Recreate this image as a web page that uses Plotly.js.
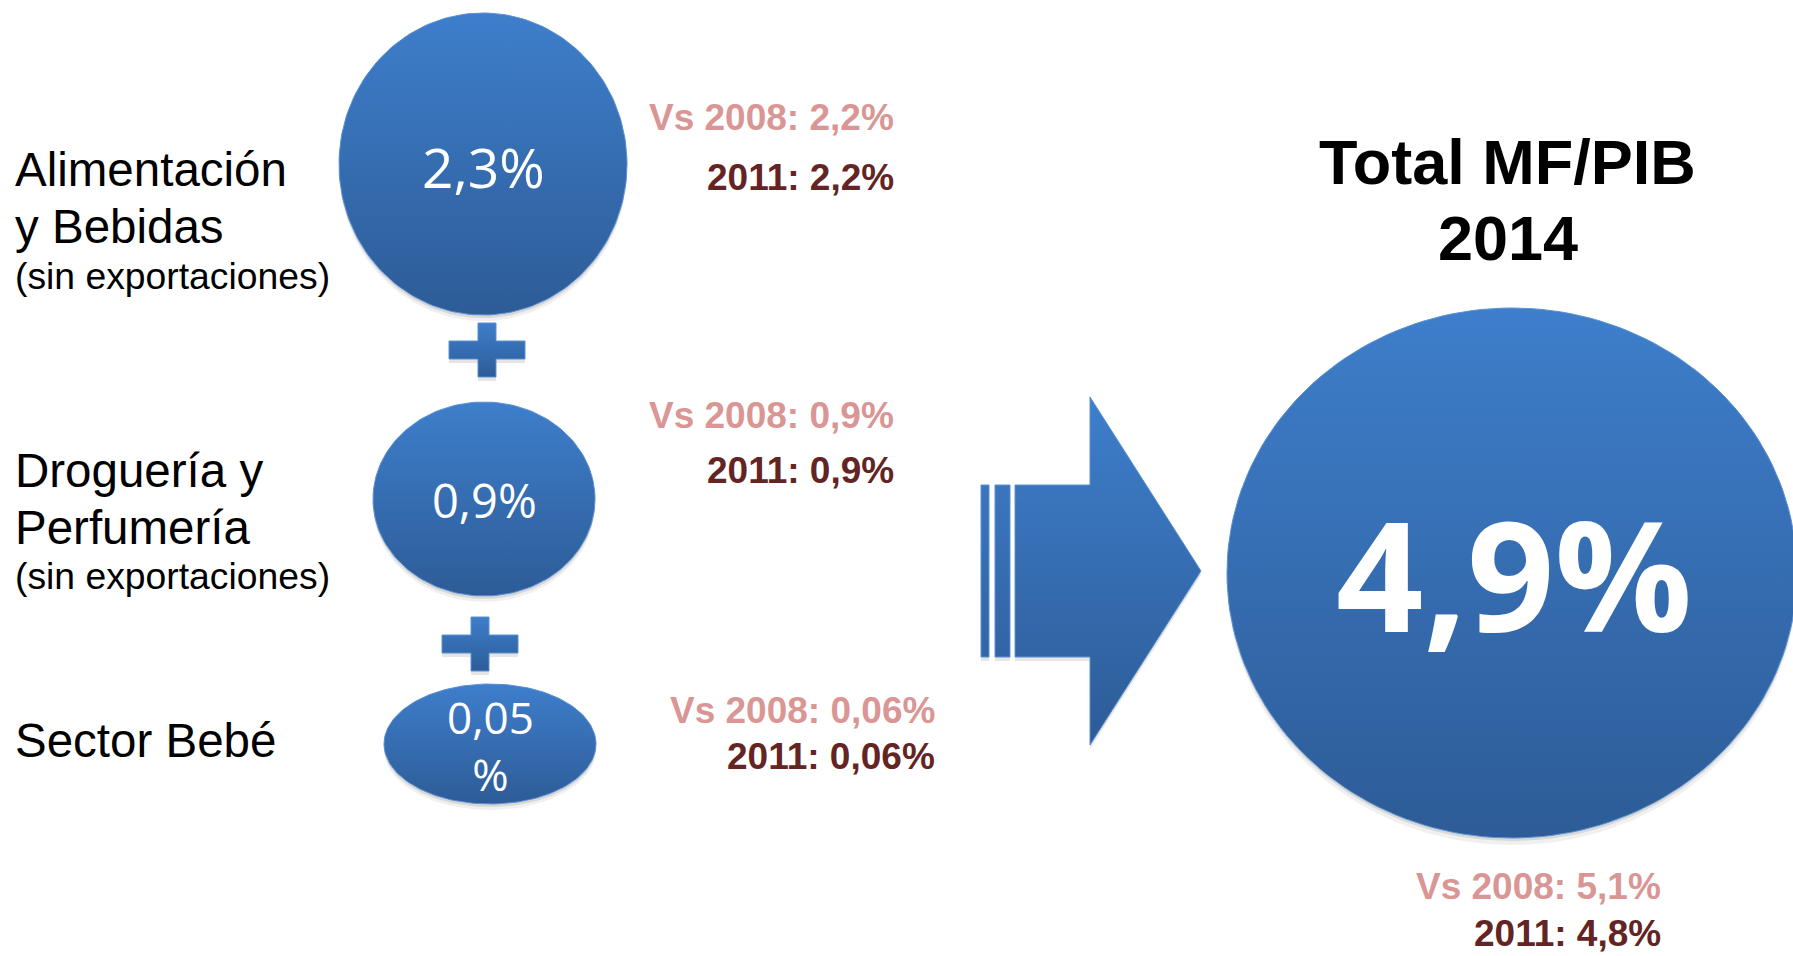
<!DOCTYPE html>
<html>
<head>
<meta charset="utf-8">
<script src="https://cdn.plot.ly/plotly-3.0.1.min.js"></script>
<style>
  html, body { margin: 0; padding: 0; background: #ffffff; }
  #graph { width: 1793px; height: 956px; }
</style>
</head>
<body>
<div id="graph"></div>
<script>
/* Datos del grafico */
const sectores = [['Alimentación', 'y Bebidas'], ['Droguería y', 'Perfumería'], ['Sector Bebé']];
const notas = ['(sin exportaciones)', '(sin exportaciones)', ''];
const valores2014 = ['2,3%', '0,9%', '0,05<br>%'];
const valoresVs2008 = ['2,2%', '0,9%', '0,06%'];
const valores2011 = ['2,2%', '0,9%', '0,06%'];
const tituloTotal = ['Total MF/PIB', '2014'];
const total2014 = '4,9%';
const totalVs2008 = '5,1%';
const total2011 = '4,8%';

/* Posiciones (pixeles) */
const burbujaCx = [483, 484, 490];
const burbujaCy = [164, 499, 744];
const burbujaRx = [144, 111, 106];
const burbujaRy = [151, 97, 60];
const burbujaFont = [55, 47, 44];
const burbujaTextY = [166, 500, 745];
const sectorLineY = [[169, 226], [470, 527], [740]];
const notaY = [276, 576, 0];
const compX = [896, 896, 937];
const compY = [[117, 177], [415, 470], [710, 756]];
const masCx = [487, 480];
const masCy = [350, 644];

const AZUL_ARRIBA = '#3e7ecb';
const AZUL_ABAJO = '#2d5c97';
const ROSA = '#d99694';
const GRANATE = '#632523';

function elipse(cx, cy, rx, ry){
    const xs = [], ys = [];
    for (let i = 0; i <= 180; i++){
        const t = i / 180 * 2 * Math.PI;
        xs.push(cx + rx * Math.cos(t));
        ys.push(cy + ry * Math.sin(t));
    }
    return {x: xs, y: ys};
}

function forma(pts, top, bottom){
    return {
        type: 'scatter', mode: 'lines', x: pts.x, y: pts.y,
        fill: 'toself',
        fillcolor: AZUL_ARRIBA,
        fillgradient: {type: 'vertical', start: top, stop: bottom,
            colorscale: [[0, AZUL_ARRIBA], [1, AZUL_ABAJO]]},
        line: {color: '#5a90d2', width: 1},
        hoverinfo: 'skip', showlegend: false
    };
}

function sombra(pts, dy, alpha){
    return {
        type: 'scatter', mode: 'lines',
        x: pts.x, y: pts.y.map(v => v + dy),
        fill: 'toself', fillcolor: 'rgba(0,0,0,' + alpha + ')',
        line: {width: 0}, hoverinfo: 'skip', showlegend: false
    };
}

function mas(cx, cy){
    const w = 38, h = 27, a = 9;
    return {
        x: [cx - a, cx + a, cx + a, cx + w, cx + w, cx + a, cx + a, cx - a, cx - a, cx - w, cx - w, cx - a, cx - a],
        y: [cy - h, cy - h, cy - a, cy - a, cy + a, cy + a, cy + h, cy + h, cy + a, cy + a, cy - a, cy - a, cy - h]
    };
}

const traces = [];

// burbujas de cada sector
for (let i = 0; i < sectores.length; i++){
    const pts = elipse(burbujaCx[i], burbujaCy[i], burbujaRx[i], burbujaRy[i]);
    traces.push(sombra(pts, 6, 0.06));
    traces.push(sombra(pts, 3, 0.10));
    traces.push(forma(pts, burbujaCy[i] - burbujaRy[i], burbujaCy[i] + burbujaRy[i]));
}

// signos +
for (let i = 0; i < masCx.length; i++){
    const pts = mas(masCx[i], masCy[i]);
    traces.push(sombra(pts, 4, 0.10));
    traces.push(forma(pts, masCy[i] - 27, masCy[i] + 27));
}

// flecha
const flecha = {x: [1015, 1090, 1090, 1201, 1090, 1090, 1015, 1015],
                y: [485, 485, 397, 571, 745, 657, 657, 485]};
const raya1 = {x: [981, 989, 989, 981, 981], y: [485, 485, 657, 657, 485]};
const raya2 = {x: [995, 1010, 1010, 995, 995], y: [485, 485, 657, 657, 485]};
[raya1, raya2, flecha].forEach(p => {
    traces.push(sombra(p, 4, 0.10));
    traces.push(forma(p, 397, 745));
});

// burbuja total
const ptsTotal = elipse(1512, 573, 285, 265);
traces.push(sombra(ptsTotal, 7, 0.06));
traces.push(sombra(ptsTotal, 3, 0.10));
traces.push(forma(ptsTotal, 308, 838));

/* Textos */
const annotations = [];
function texto(t, x, y, size, color, anchor, family, weight){
    annotations.push({
        text: t, x: x, y: y, xref: 'x', yref: 'y',
        xanchor: anchor, yanchor: 'middle', showarrow: false,
        font: {family: family || 'Liberation Sans, Arial, sans-serif', size: size,
               color: color, weight: weight || 'normal'}
    });
}

for (let i = 0; i < sectores.length; i++){
    sectores[i].forEach((linea, j) => texto(linea, 13, sectorLineY[i][j], 47.5, '#000000', 'left'));
    if (notas[i]) texto(notas[i], 13, notaY[i], 37.3, '#000000', 'left');
    texto(valores2014[i], burbujaCx[i], burbujaTextY[i], burbujaFont[i], '#ffffff', 'center', 'Open Sans, sans-serif');
    texto('Vs 2008: ' + valoresVs2008[i], compX[i], compY[i][0], 37, ROSA, 'right', null, 'bold');
    texto('2011: ' + valores2011[i], compX[i], compY[i][1], 37, GRANATE, 'right', null, 'bold');
}

texto(tituloTotal[0], 1507, 162, 63, '#000000', 'center', null, 'bold');
texto(tituloTotal[1], 1508, 238, 63, '#000000', 'center', null, 'bold');
texto(total2014, 1514, 572, 153, '#ffffff', 'center', 'Open Sans, sans-serif', 'bold');
texto('Vs 2008: ' + totalVs2008, 1663, 886, 37, ROSA, 'right', null, 'bold');
texto('2011: ' + total2011, 1663, 933, 37, GRANATE, 'right', null, 'bold');

const layout = {
    width: 1793, height: 956,
    margin: {l: 0, r: 0, t: 0, b: 0},
    paper_bgcolor: '#ffffff', plot_bgcolor: '#ffffff',
    showlegend: false,
    xaxis: {range: [0, 1793], visible: false, fixedrange: true},
    yaxis: {range: [956, 0], visible: false, fixedrange: true},
    annotations: annotations
};

Plotly.newPlot('graph', traces, layout, {staticPlot: true, displayModeBar: false});
</script>
</body>
</html>
